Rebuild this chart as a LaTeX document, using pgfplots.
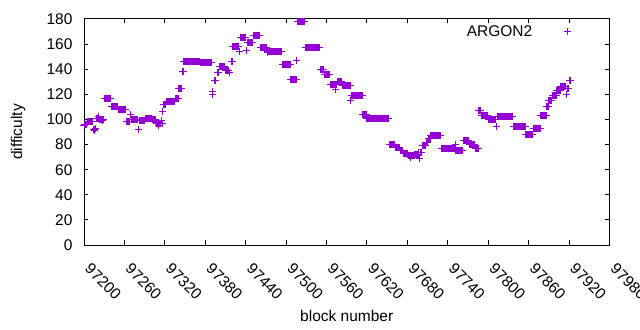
\documentclass[border=0pt]{standalone}
\usepackage{fontspec}
\setmainfont{Liberation Sans}
\usepackage{pgfplots}
\pgfplotsset{compat=1.18}
\definecolor{gpviolet}{RGB}{148,0,211}
\newcommand{\fs}{\fontsize{15.5bp}{18bp}\selectfont}
\begin{document}
\begin{tikzpicture}
\useasboundingbox (0,0) rectangle (640bp,330bp);
\begin{axis}[
  at={(84bp,85bp)}, anchor=south west,
  scale only axis, width=525.5bp, height=226bp,
  xmin=97200, xmax=97980, ymin=0, ymax=180,
  xtick={97200,97260,...,97980}, ytick={0,20,...,180},
  scaled x ticks=false, scaled y ticks=false,
  /pgf/number format/assume math mode=true,
  /pgf/number format/1000 sep={},
  tick align=inside, tick pos=both,
  major tick length=4.5bp,
  tick style={black, line width=1bp},
  axis line style={black, line width=1bp},
  tick label style={font=\fs},
  label style={font=\fs},
  xticklabel style={xshift=7.8bp, yshift=-12.3bp, rotate=-45, anchor=north west},
  yticklabel style={xshift=-8bp},
  xlabel={block number}, ylabel={difficulty},
  xlabel style={at={(axis description cs:0.5,-0.314)}, anchor=center},
  ylabel style={at={(axis description cs:-0.1256,0.5)}, anchor=center},
  clip=false,
  legend plot pos=right,
  legend style={draw=none, fill=none, inner sep=0pt, font=\fs,
    at={(0.9334,0.9438)}, anchor=east,
    /tikz/every even column/.append style={column sep=0pt}},
  legend image code/.code={\path[draw=none,fill=none] (0bp,0bp) -- (40bp,0bp); \draw[#1] plot coordinates {(33bp,0bp)};},
]
\addplot[only marks, mark=+, mark size=3.5bp, line width=1bp, color=gpviolet] coordinates {
(97200,95) (97201,96) (97202,96) (97203,96) (97204,96)
(97205,98) (97206,98) (97207,98) (97208,98) (97209,98) (97210,98) (97211,98) (97212,98) (97213,98)
(97214,92) (97215,91) (97216,92) (97217,93)
(97218,101) (97219,101) (97220,101) (97221,102) (97222,101) (97223,100) (97224,100) (97225,100) (97226,100) (97227,100) (97228,99) (97229,100)
(97230,117) (97231,117) (97232,117) (97233,117) (97234,117) (97235,117) (97236,117) (97237,117) (97238,117) (97239,117) (97240,117)
(97241,110) (97242,110) (97243,110) (97244,110) (97245,110) (97246,110) (97247,110) (97248,110) (97249,110) (97250,110)
(97251,108) (97252,108) (97253,108) (97254,108) (97255,108) (97256,108) (97257,108) (97258,108) (97259,108) (97260,108) (97261,108) (97262,108)
(97263,98) (97264,98) (97265,98) (97266,98) (97267,98) (97268,98) (97269,104)
(97270,100) (97271,100) (97272,100) (97273,100) (97274,100) (97275,100) (97276,100) (97277,100) (97278,100) (97279,100) (97280,100)
(97281,92)
(97282,99) (97283,99) (97284,99) (97285,99) (97286,99) (97287,99) (97288,99) (97289,99) (97290,99)
(97291,101) (97292,101) (97293,101) (97294,101) (97295,101) (97296,101) (97297,101) (97298,101) (97299,101) (97300,101)
(97301,100) (97302,100) (97303,100) (97304,100) (97305,100) (97306,100)
(97307,97) (97308,97) (97309,97) (97310,95) (97311,97) (97312,97) (97313,97) (97314,97) (97315,99) (97316,97)
(97317,106)
(97318,112) (97319,112) (97320,112) (97321,112)
(97322,114) (97323,114) (97324,114) (97325,114) (97326,114) (97327,114) (97328,114) (97329,114) (97330,114) (97331,114) (97332,114) (97333,114) (97334,114) (97335,114)
(97336,117) (97337,117) (97338,117) (97339,117) (97340,117)
(97341,125) (97342,125) (97343,125) (97344,125) (97345,125)
(97346,138) (97347,138)
(97348,146) (97349,146) (97350,146) (97351,146) (97352,146) (97353,146) (97354,146) (97355,146) (97356,146) (97357,146) (97358,146) (97359,146) (97360,146)
(97361,146) (97362,146) (97363,146) (97364,146) (97365,146) (97366,146) (97367,146) (97368,146) (97369,146) (97370,146) (97371,146) (97372,146)
(97373,145) (97374,145) (97375,145) (97376,145) (97377,145) (97378,145) (97379,145) (97380,145) (97381,145) (97382,145) (97383,145) (97384,145) (97385,145) (97386,145) (97387,145) (97388,145) (97389,145)
(97390,120) (97391,122) (97394,131) (97395,131) (97398,137) (97399,137)
(97401,142) (97402,142) (97403,142) (97404,142) (97405,142) (97406,142) (97407,142) (97408,142)
(97410,139) (97411,139) (97412,139) (97413,139) (97414,139) (97415,139) (97416,137)
(97419,146) (97420,146)
(97421,158) (97422,158) (97423,158) (97424,158) (97425,158) (97426,158) (97427,158) (97428,158) (97429,158) (97430,158)
(97431,154)
(97432,165) (97433,165) (97434,165) (97435,165) (97436,165) (97437,165) (97438,165) (97439,165) (97440,165)
(97441,155)
(97442,161) (97443,161) (97444,161) (97445,161) (97446,161) (97447,161) (97448,161) (97449,161) (97450,161)
(97451,167) (97452,167) (97453,167) (97454,167) (97455,167) (97456,167) (97457,167) (97458,167) (97459,167) (97460,167) (97461,167)
(97462,157) (97463,157) (97464,157) (97465,157) (97466,157) (97467,157) (97468,157) (97469,157) (97470,157) (97471,157)
(97472,153)
(97473,154) (97474,154) (97475,154) (97476,154) (97477,154) (97478,154) (97479,154) (97480,154) (97481,154) (97482,154) (97483,154)
(97484,154) (97485,154) (97486,154) (97487,154) (97488,154) (97489,154) (97490,154) (97491,154) (97492,154) (97493,154)
(97494,144) (97495,144) (97496,144) (97497,144) (97498,144) (97499,144) (97500,144) (97501,144) (97502,144) (97503,144) (97504,144) (97505,144) (97506,144)
(97507,132) (97508,132) (97509,132) (97510,132) (97511,132) (97512,132) (97513,132) (97514,132) (97515,132)
(97516,147)
(97517,178) (97518,178) (97519,178) (97520,178) (97521,178) (97522,178) (97523,178) (97524,178) (97525,178) (97526,178) (97527,178) (97528,178)
(97529,157) (97530,157) (97531,157) (97532,157) (97533,157) (97534,157) (97535,157) (97536,157) (97537,157) (97538,157) (97539,157)
(97540,157) (97541,157) (97542,157) (97543,157) (97544,157) (97545,157) (97546,157) (97547,157) (97548,157) (97549,157) (97550,157)
(97551,140) (97552,140) (97553,140) (97554,140) (97555,140) (97556,140)
(97557,136) (97558,136) (97559,136) (97560,136) (97561,136) (97562,136) (97563,136) (97564,136) (97565,136)
(97566,128) (97567,128) (97568,128) (97569,128) (97570,128) (97571,128) (97572,128) (97573,128) (97574,124) (97575,128)
(97576,130) (97577,130) (97578,130) (97579,130) (97580,130) (97581,130) (97582,130)
(97583,127) (97584,127) (97585,127) (97586,127) (97587,127) (97588,127) (97589,127) (97590,127) (97591,127) (97592,127) (97593,127) (97594,127) (97595,127)
(97596,115)
(97597,119) (97598,119) (97599,119) (97600,119) (97601,119) (97602,119) (97603,119) (97604,119) (97605,119) (97606,119) (97607,119) (97608,119) (97609,119) (97610,119) (97611,119) (97612,119) (97613,119)
(97614,104) (97615,104) (97616,104) (97617,104) (97618,104) (97619,104)
(97620,101) (97621,101) (97622,101) (97623,101) (97624,101) (97625,101) (97626,101) (97627,101) (97628,101) (97629,101) (97630,101)
(97631,101) (97632,101) (97633,101) (97634,101) (97635,101) (97636,101) (97637,101) (97638,101) (97639,101) (97640,101) (97641,101)
(97642,101) (97643,101) (97644,101) (97645,101) (97646,101) (97647,101) (97648,101) (97649,101) (97650,101) (97651,101) (97652,101)
(97653,80) (97654,80) (97655,80) (97656,80) (97657,80) (97658,80) (97659,80) (97660,80) (97661,80)
(97662,78) (97663,78) (97664,78) (97665,78) (97666,78) (97667,78) (97668,78) (97669,78)
(97670,75) (97671,75) (97672,75) (97673,75)
(97674,73) (97675,73) (97676,73) (97677,73) (97678,73) (97679,73) (97680,73)
(97681,71) (97682,71) (97683,71) (97684,71) (97685,70) (97686,71) (97687,71) (97688,71) (97689,71) (97690,71)
(97691,72) (97692,72) (97693,72) (97694,72) (97695,72) (97696,72)
(97697,74) (97698,69) (97699,74) (97700,74) (97701,74)
(97702,79) (97703,79) (97704,79) (97705,79) (97706,79) (97707,79)
(97708,82) (97709,82) (97710,82)
(97711,85) (97712,85) (97713,85) (97714,85)
(97715,87) (97716,87) (97717,87) (97718,87) (97719,87) (97720,87) (97721,87) (97722,87) (97723,87) (97724,87) (97725,87) (97726,87) (97727,87) (97728,87) (97729,87)
(97730,77) (97731,77) (97732,77) (97733,77) (97734,77) (97735,77) (97736,77) (97737,77) (97738,77) (97739,77) (97740,77)
(97741,77) (97742,77) (97743,77) (97744,77) (97745,77) (97746,77) (97747,77) (97748,77) (97749,77) (97750,77)
(97751,80)
(97752,75) (97753,75) (97754,75) (97755,75) (97756,75) (97757,75) (97758,75) (97759,75) (97760,75) (97761,75) (97762,75)
(97763,83) (97764,83) (97765,83) (97766,83) (97767,83) (97768,83) (97769,83) (97770,83) (97771,83)
(97772,80) (97773,80) (97774,80) (97775,80) (97776,80) (97777,80) (97778,80) (97779,80) (97780,80)
(97781,77) (97782,77) (97783,77) (97784,77) (97785,77)
(97786,107) (97787,107) (97788,107) (97789,107)
(97790,103) (97791,103) (97792,103) (97793,103) (97794,103) (97795,103) (97796,103) (97797,103) (97798,103) (97799,103)
(97800,100) (97801,100) (97802,100) (97803,100) (97804,100) (97805,100) (97806,100) (97807,100) (97808,100) (97809,100) (97810,100) (97811,100)
(97812,94) (97813,94)
(97814,102) (97815,102) (97816,102) (97817,102) (97818,102) (97819,102) (97820,102) (97821,102) (97822,102) (97823,102) (97824,102) (97825,102)
(97826,102) (97827,102) (97828,102) (97829,102) (97830,102) (97831,102) (97832,102) (97833,102) (97834,102) (97835,102) (97836,102)
(97837,94) (97838,94) (97839,94) (97840,94) (97841,94) (97842,94) (97843,94) (97844,94) (97845,94) (97846,94)
(97847,94) (97848,94) (97849,94) (97850,94) (97851,94) (97852,94) (97853,94) (97854,94) (97855,94)
(97856,88) (97857,88) (97858,88) (97859,88) (97860,88) (97861,88) (97862,88) (97863,88) (97864,88) (97865,88) (97866,88)
(97867,93) (97868,93) (97869,93) (97870,93) (97871,93) (97872,93) (97873,93) (97874,93) (97875,93) (97876,93) (97877,93)
(97878,103) (97879,103) (97880,103) (97881,103) (97882,103) (97883,103) (97884,103) (97885,103) (97886,103)
(97887,110) (97888,110) (97889,110)
(97890,115) (97891,115) (97892,115) (97893,115) (97894,115)
(97895,119) (97896,119) (97897,119) (97898,119) (97899,119) (97900,119) (97901,119)
(97902,123) (97903,123) (97904,123) (97905,123) (97906,123) (97907,123)
(97908,126) (97909,126) (97910,126) (97911,126) (97912,126) (97913,126) (97914,126) (97915,126)
(97916,120)
(97917,125) (97918,125) (97919,125)
(97920,131) (97921,131) (97922,131)
};
\addlegendentry{ARGON2}
\end{axis}
\end{tikzpicture}
\end{document}
